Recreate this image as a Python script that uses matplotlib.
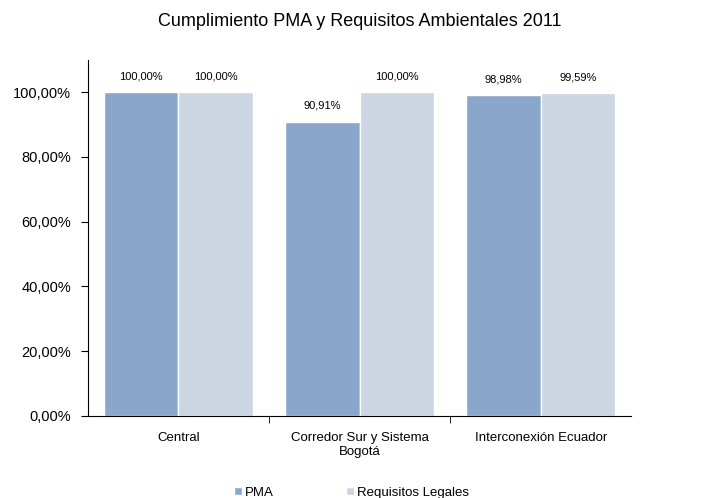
import numpy as np
import matplotlib.pyplot as plt
from matplotlib.ticker import FuncFormatter

plt.rcParams['font.family'] = ['Liberation Sans', 'DejaVu Sans']

categorias = ['Central', 'Corredor Sur y Sistema\nBogotá', 'Interconexión Ecuador']
pma = [100.00, 90.91, 98.98]
requisitos = [100.00, 100.00, 99.59]

fig = plt.figure(figsize=(7.03, 4.98), dpi=100)
ax = fig.add_axes([0.125, 0.165, 0.773, 0.715])

x = np.arange(len(categorias))
w = 0.41
b1 = ax.bar(x - w/2, pma, w, color='#8BA6CB', edgecolor='white', linewidth=1, label='PMA')
b2 = ax.bar(x + w/2, requisitos, w, color='#CCD6E3', edgecolor='white', linewidth=1, label='Requisitos Legales')

fmt = lambda v: f'{v:.2f}'.replace('.', ',') + '%'
for bars in (b1, b2):
    for r in bars:
        h = r.get_height()
        ax.text(r.get_x() + r.get_width()/2, h + 3.3, fmt(h), ha='center', va='bottom', fontsize=8)

ax.set_xlim(-0.5, 2.5)
ax.set_ylim(0, 110)
ax.set_yticks(np.arange(0, 101, 20))
ax.yaxis.set_major_formatter(FuncFormatter(lambda v, p: fmt(v)))
ax.set_xticks(x)
ax.set_xticklabels(categorias, fontsize=9.5)
ax.tick_params(axis='x', which='major', length=0, pad=12)
ax.set_xticks([0.5, 1.5], minor=True)
ax.tick_params(axis='x', which='minor', length=5, direction='out')
ax.tick_params(axis='y', labelsize=10.5, length=5, pad=7, direction='out')

for s in ['top', 'right']:
    ax.spines[s].set_visible(False)

ax.set_title('Cumplimiento PMA y Requisitos Ambientales 2011', fontsize=13, pad=24)

fig.legend(handles=[b1, b2], loc='lower center', bbox_to_anchor=(0.5, -0.025), ncol=2, frameon=False,
           fontsize=9.5, handlelength=0.6, handleheight=0.6, columnspacing=5.5, handletextpad=0.2)

fig.savefig('out.png', dpi=100)
